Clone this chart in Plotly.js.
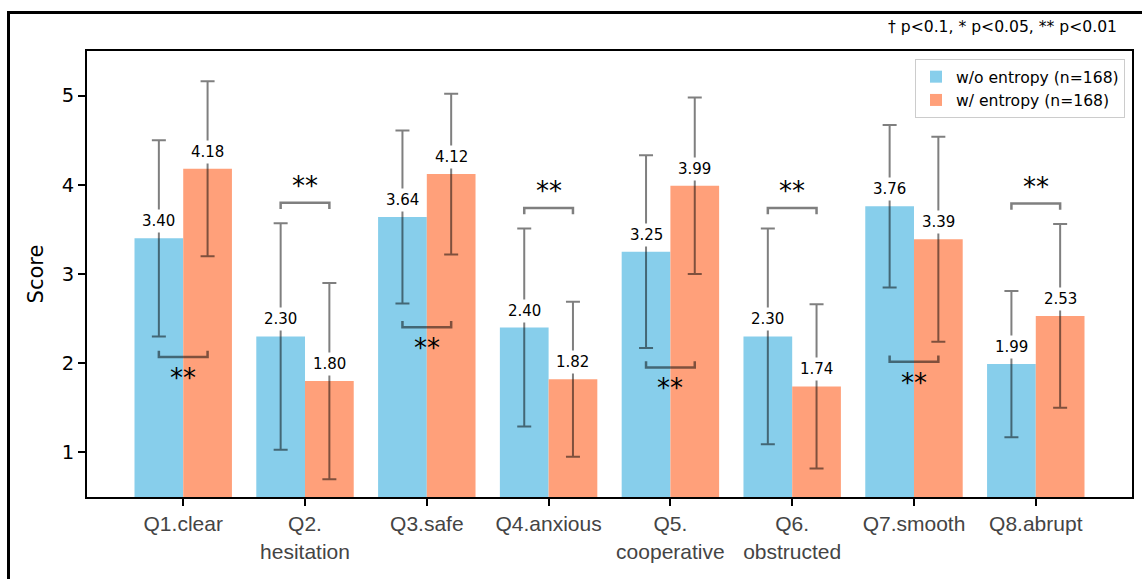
<!DOCTYPE html>
<html>
<head>
<meta charset="utf-8">
<script src="https://cdn.plot.ly/plotly-3.0.1.min.js"></script>
<style>
  html, body { margin: 0; padding: 0; overflow: hidden; background: #fff; }
  #chart { width: 1142px; height: 579px; }
  #frame { position: absolute; left: 7px; top: 11px; width: 1300px; height: 800px;
           border: 3px solid #000; pointer-events: none; }
</style>
</head>
<body>
<div id="chart"></div>
<div id="frame"></div>
<script>
// ---- data ----
const categories = ["Q1.clear", "Q2.<br>hesitation", "Q3.safe", "Q4.anxious",
                    "Q5.<br>cooperative", "Q6.<br>obstructed", "Q7.smooth", "Q8.abrupt"];
const woMeans = [3.40, 2.30, 3.64, 2.40, 3.25, 2.30, 3.76, 1.99];
const woSD    = [1.10, 1.27, 0.97, 1.11, 1.08, 1.21, 0.91, 0.82];
const wMeans  = [4.18, 1.80, 4.12, 1.82, 3.99, 1.74, 3.39, 2.53];
const wSD     = [0.98, 1.10, 0.90, 0.87, 0.99, 0.92, 1.15, 1.03];
const sigLabels = ["**", "**", "**", "**", "**", "**", "**", "**"];
const sigSide   = ["below", "above", "below", "above", "below", "above", "below", "above"];
const seriesNames = ["w/o entropy (n=168)", "w/ entropy (n=168)"];
const noteText = "† p<0.1, * p<0.05, ** p<0.01";

const xs = categories.map((_, i) => i);
const errColor = "rgba(0,0,0,0.5)";

const traces = [
  { type: "bar", name: seriesNames[0], x: xs, y: woMeans,
    marker: { color: "#87CEEB" },
    error_y: { type: "data", array: woSD, visible: true, color: errColor, thickness: 2, width: 7 },
    hoverinfo: "skip" },
  { type: "bar", name: seriesNames[1], x: xs, y: wMeans,
    marker: { color: "#FFA07A" },
    error_y: { type: "data", array: wSD, visible: true, color: errColor, thickness: 2, width: 7 },
    hoverinfo: "skip" }
];

const annotations = [];
const shapes = [];
const off = 0.2;
xs.forEach(i => {
  annotations.push({ x: i - off, y: woMeans[i], xref: "x", yref: "y", text: woMeans[i].toFixed(2),
    showarrow: false, yanchor: "bottom", yshift: 5, bgcolor: "#ffffff", borderpad: 2,
    font: { family: "DejaVu Sans", size: 15, color: "#000" } });
  annotations.push({ x: i + off, y: wMeans[i], xref: "x", yref: "y", text: wMeans[i].toFixed(2),
    showarrow: false, yanchor: "bottom", yshift: 5, bgcolor: "#ffffff", borderpad: 2,
    font: { family: "DejaVu Sans", size: 15, color: "#000" } });

  const lo = Math.min(woMeans[i] - woSD[i], wMeans[i] - wSD[i]);
  const hi = Math.max(woMeans[i] + woSD[i], wMeans[i] + wSD[i]);
  const h = 0.07;
  let yb, tip;
  if (sigSide[i] === "above") { yb = hi + 0.23; tip = yb - h; }
  else { yb = lo * 0.9; tip = yb + h; }
  const x0 = i - off, x1 = i + off;
  shapes.push({ type: "path", xref: "x", yref: "y",
    path: `M ${x0},${tip} L ${x0},${yb} L ${x1},${yb} L ${x1},${tip}`,
    line: { color: errColor, width: 2.5 } });
  annotations.push({ x: i, y: yb, xref: "x", yref: "y", text: sigLabels[i], showarrow: false,
    yanchor: sigSide[i] === "above" ? "bottom" : "top",
    yshift: sigSide[i] === "above" ? 0 : -4,
    font: { family: "DejaVu Sans", size: 26, color: "#000" } });
});

annotations.push({ xref: "paper", yref: "paper", x: 0.9875, y: 1.03, xanchor: "right", yanchor: "bottom",
  text: noteText, showarrow: false, font: { family: "DejaVu Sans", size: 15.6, color: "#000" } });

const layout = {
  width: 1142, height: 579,
  margin: { l: 87, r: 10, t: 51, b: 82 },
  paper_bgcolor: "#fff", plot_bgcolor: "#fff",
  barmode: "group", bargap: 0.2, bargroupgap: 0,
  showlegend: true,
  legend: { x: 0.9933, y: 0.982, xanchor: "right", yanchor: "top",
    bgcolor: "rgba(255,255,255,0.9)", bordercolor: "#cccccc", borderwidth: 1,
    font: { family: "DejaVu Sans", size: 15.6, color: "#000" } },
  xaxis: { range: [-0.79, 7.79], tickmode: "array", tickvals: xs, ticktext: categories,
    showline: true, linecolor: "#000", linewidth: 2, mirror: true,
    ticks: "outside", ticklen: 7, tickwidth: 2, tickcolor: "#000",
    showgrid: false, zeroline: false,
    tickfont: { family: "Liberation Sans, Arial", size: 21, color: "#444" } },
  yaxis: { range: [0.5, 5.5], tickmode: "array", tickvals: [1, 2, 3, 4, 5],
    showline: true, linecolor: "#000", linewidth: 2, mirror: true,
    ticks: "outside", ticklen: 7, tickwidth: 2, tickcolor: "#000",
    showgrid: false, zeroline: false,
    tickfont: { family: "DejaVu Sans", size: 19.5, color: "#000" },
    title: { text: "Score", font: { family: "DejaVu Sans", size: 21, color: "#000" }, standoff: 12 } },
  annotations: annotations,
  shapes: shapes
};

Plotly.newPlot("chart", traces, layout, { displayModeBar: false, staticPlot: true });
</script>
</body>
</html>
